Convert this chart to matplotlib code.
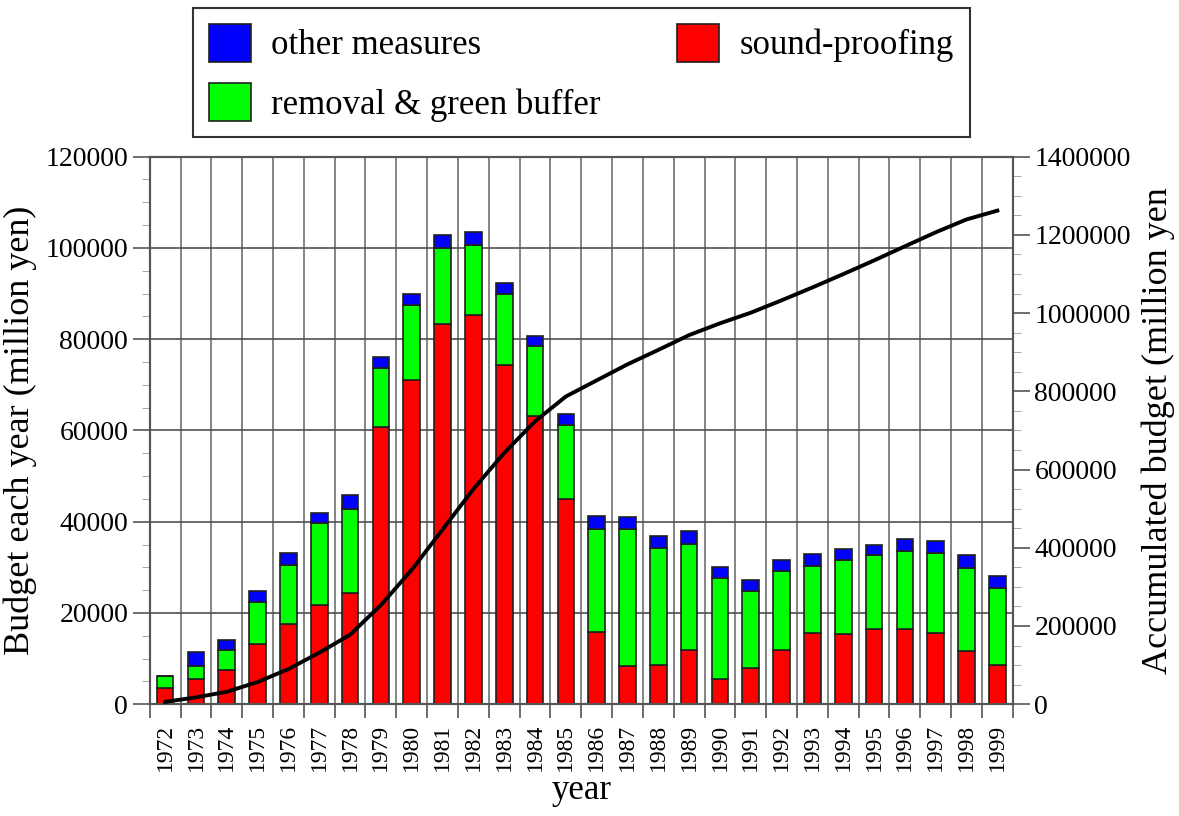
import numpy as np
import matplotlib
matplotlib.use("Agg")
import matplotlib.pyplot as plt
from matplotlib.ticker import MultipleLocator, FixedLocator, NullFormatter

#################
# data (million yen)
#################
years = [str(y) for y in range(1972, 2000)]
sound_proofing = [3500, 5600, 7400, 13300, 17600, 21700, 24400, 60800, 71100, 83400,
                  85300, 74400, 63200, 45000, 15900, 8400, 8600, 11800, 5500, 8000,
                  11900, 15500, 15300, 16400, 16400, 15600, 11600, 8700]
removal_green = [2600, 2700, 4400, 9000, 12900, 18100, 18300, 12800, 16400, 16600,
                 15400, 15500, 15300, 16100, 22600, 30100, 25700, 23300, 22100, 16800,
                 17400, 14800, 16400, 16200, 17200, 17600, 18300, 16700]
other_measures = [100, 3100, 2300, 2600, 2700, 2000, 3100, 2400, 2500, 2900,
                  2900, 2500, 2200, 2500, 2800, 2500, 2600, 2800, 2500, 2400,
                  2300, 2600, 2400, 2400, 2600, 2600, 2900, 2800]
accumulated = [6000, 17500, 31800, 56700, 89900, 131700, 177600, 253600, 343600, 446500,
               550100, 642500, 723200, 786800, 828000, 869000, 905900, 943800, 973900, 1001000,
               1032700, 1065600, 1099700, 1134700, 1170800, 1206600, 1239500, 1262000]

#################
# plot
#################
plt.rcParams['font.family'] = ['Liberation Serif', 'DejaVu Serif']

fig = plt.figure(figsize=(11.79, 8.16), dpi=100)
ax = fig.add_axes([0.127, 0.137, 0.732, 0.671])

x = np.arange(len(years))
sp = np.array(sound_proofing)
rg = np.array(removal_green)
om = np.array(other_measures)

edge = dict(edgecolor='#202020', linewidth=1.2, width=0.54, zorder=3)
b1 = ax.bar(x, sp, color='#ff0000', **edge)
b2 = ax.bar(x, rg, bottom=sp, color='#00ff00', **edge)
b3 = ax.bar(x, om, bottom=sp + rg, color='#0000ff', **edge)

ax.set_xlim(-0.5, len(years) - 0.5)
ax.set_ylim(0, 120000)
ax.yaxis.set_major_locator(MultipleLocator(20000))
ax.yaxis.set_minor_locator(MultipleLocator(5000))

# year labels at bar centres, ticks + grid at the bar boundaries
ax.set_xticks(x)
ax.set_xticklabels(years, rotation=90, fontsize=17)
ax.tick_params(axis='x', which='major', length=0, pad=14)
ax.xaxis.set_minor_locator(FixedLocator(np.arange(-0.5, len(years), 1.0)))
ax.xaxis.set_minor_formatter(NullFormatter())
ax.tick_params(axis='x', which='minor', length=10, color='#555555', width=1.2)
ax.grid(axis='x', which='minor', color='#707070', linewidth=1.2, zorder=0)
ax.grid(axis='y', which='major', color='#505050', linewidth=1.2, zorder=0)
ax.set_axisbelow(True)

ax.tick_params(axis='y', which='major', labelsize=20, length=12, color='#555555', width=1.2)
ax.tick_params(axis='y', which='minor', length=6, color='#999999')
ax.set_ylabel('Budget each year (million yen)', fontsize=26, labelpad=6)
ax.set_xlabel('year', fontsize=25, labelpad=2)

ax2 = ax.twinx()
ax2.plot(x, accumulated, color='black', linewidth=2.8, zorder=5)
ax2.set_ylim(0, 1400000)
ax2.yaxis.set_major_locator(MultipleLocator(200000))
ax2.yaxis.set_minor_locator(MultipleLocator(50000))
ax2.ticklabel_format(axis='y', style='plain', useOffset=False)
ax2.tick_params(axis='y', which='major', labelsize=20, length=12, color='#555555', width=1.2)
ax2.tick_params(axis='y', which='minor', length=6, color='#999999')
ax2.set_ylabel('Accumulated budget (million yen', fontsize=26, labelpad=8)

for a in (ax, ax2):
    for s in a.spines.values():
        s.set_color('#555555')
        s.set_linewidth(1.5)

leg = fig.legend([b3, b2, b1], ['other measures', 'removal & green buffer', 'sound-proofing'],
                 ncol=2, loc='upper left', bbox_to_anchor=(0.164, 0.99), borderaxespad=0,
                 fontsize=25, frameon=True, fancybox=False, edgecolor='black',
                 handlelength=1.2, handleheight=1.3, handletextpad=0.6,
                 labelspacing=0.6, columnspacing=2.2, borderpad=0.45)
leg.get_frame().set_linewidth(1.5)

fig.savefig('out.png', dpi=100)
